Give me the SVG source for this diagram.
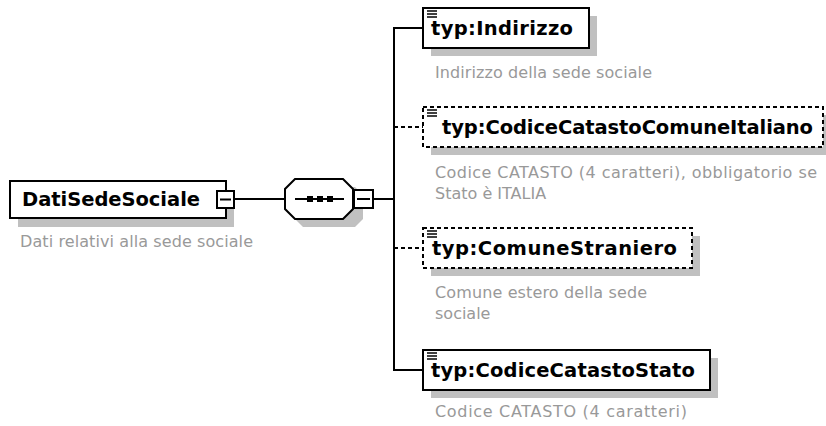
<svg xmlns="http://www.w3.org/2000/svg" width="826" height="426" viewBox="0 0 826 426">
<style>
.bg{fill:#fff}
.shadow{fill:#c0c0c0}
.box{fill:#fff;stroke:#000;stroke-width:2}
.dbox{fill:#fff;stroke:#000;stroke-width:2;stroke-dasharray:4 3}
.name{font-family:"DejaVu Sans",Verdana,sans-serif;font-weight:bold;font-size:19.5px;fill:#000}
.desc{font-family:"DejaVu Sans",Verdana,sans-serif;font-size:16px;fill:#999}
.line{fill:none;stroke:#000;stroke-width:2}
.dline{fill:none;stroke:#000;stroke-width:2;stroke-dasharray:4 3}
.icon{stroke:#000;stroke-width:1.5}
</style>
<defs>
<g id="ico"><line class="icon" x1="0" y1="0" x2="10" y2="0"/><line class="icon" x1="0" y1="3" x2="10" y2="3"/><line class="icon" x1="0" y1="6" x2="10" y2="6"/></g>
</defs>
<rect class="bg" x="0" y="0" width="826" height="426"/>

<g id="connectors">
<line class="line" x1="234" y1="199" x2="285" y2="199"/>
<line class="line" x1="373" y1="199" x2="394" y2="199"/>
<line class="line" x1="394" y1="28" x2="394" y2="370"/>
<line class="line" x1="393" y1="28" x2="423" y2="28"/>
<line class="dline" x1="394" y1="127" x2="423" y2="127"/>
<line class="dline" x1="394" y1="248" x2="423" y2="248"/>
<line class="line" x1="393" y1="370" x2="423" y2="370"/>
</g>

<g id="DatiSedeSociale">
<rect class="shadow" x="18" y="190" width="216" height="37"/>
<rect class="box" x="10" y="181" width="216" height="37"/>
<text class="name" x="22" y="206" textLength="178">DatiSedeSociale</text>
<rect class="box" x="217" y="191" width="17" height="17"/>
<line class="line" x1="220" y1="199.5" x2="231" y2="199.5"/>
<text class="desc" x="20" y="247" textLength="233">Dati relativi alla sede sociale</text>
</g>

<g id="sequence">
<polygon class="shadow" points="303,187 355,187 363,195 363,219 355,227 303,227 295,219 295,195"/>
<polygon class="box" points="295,179 343,179 353,189 353,209 343,219 295,219 285,209 285,189"/>
<line class="line" x1="295" y1="199" x2="344" y2="199"/>
<rect x="307" y="196" width="6" height="6" fill="#000"/>
<rect x="317" y="196" width="6" height="6" fill="#000"/>
<rect x="327" y="196" width="6" height="6" fill="#000"/>
<rect class="box" x="354" y="190" width="19" height="18"/>
<line class="line" x1="357" y1="199" x2="370" y2="199"/>
</g>

<g id="Indirizzo">
<rect class="shadow" x="431" y="16" width="166" height="40"/>
<rect class="box" x="423" y="8" width="166" height="40"/>
<use href="#ico" x="427" y="11"/>
<text class="name" x="431" y="35" textLength="142">typ:Indirizzo</text>
<text class="desc" x="435" y="78" textLength="217">Indirizzo della sede sociale</text>
</g>

<g id="CodiceCatastoComuneItaliano">
<rect class="shadow" x="431" y="115" width="400" height="40"/>
<rect class="dbox" x="423" y="107" width="400" height="40"/>
<use href="#ico" x="427" y="110"/>
<text class="name" x="442" y="134" textLength="371">typ:CodiceCatastoComuneItaliano</text>
<text class="desc" x="435" y="178" textLength="382">Codice CATASTO (4 caratteri), obbligatorio se</text>
<text class="desc" x="435" y="199">Stato è ITALIA</text>
</g>

<g id="ComuneStraniero">
<rect class="shadow" x="431" y="236" width="269" height="40"/>
<rect class="dbox" x="423" y="228" width="269" height="40"/>
<use href="#ico" x="427" y="231"/>
<text class="name" x="432" y="255" textLength="245">typ:ComuneStraniero</text>
<text class="desc" x="435" y="298" textLength="212">Comune estero della sede</text>
<text class="desc" x="435" y="319">sociale</text>
</g>

<g id="CodiceCatastoStato">
<rect class="shadow" x="431" y="358" width="287" height="40"/>
<rect class="box" x="423" y="350" width="287" height="40"/>
<use href="#ico" x="427" y="353"/>
<text class="name" x="431" y="377" textLength="264">typ:CodiceCatastoStato</text>
<text class="desc" x="435" y="417" textLength="252">Codice CATASTO (4 caratteri)</text>
</g>
</svg>
